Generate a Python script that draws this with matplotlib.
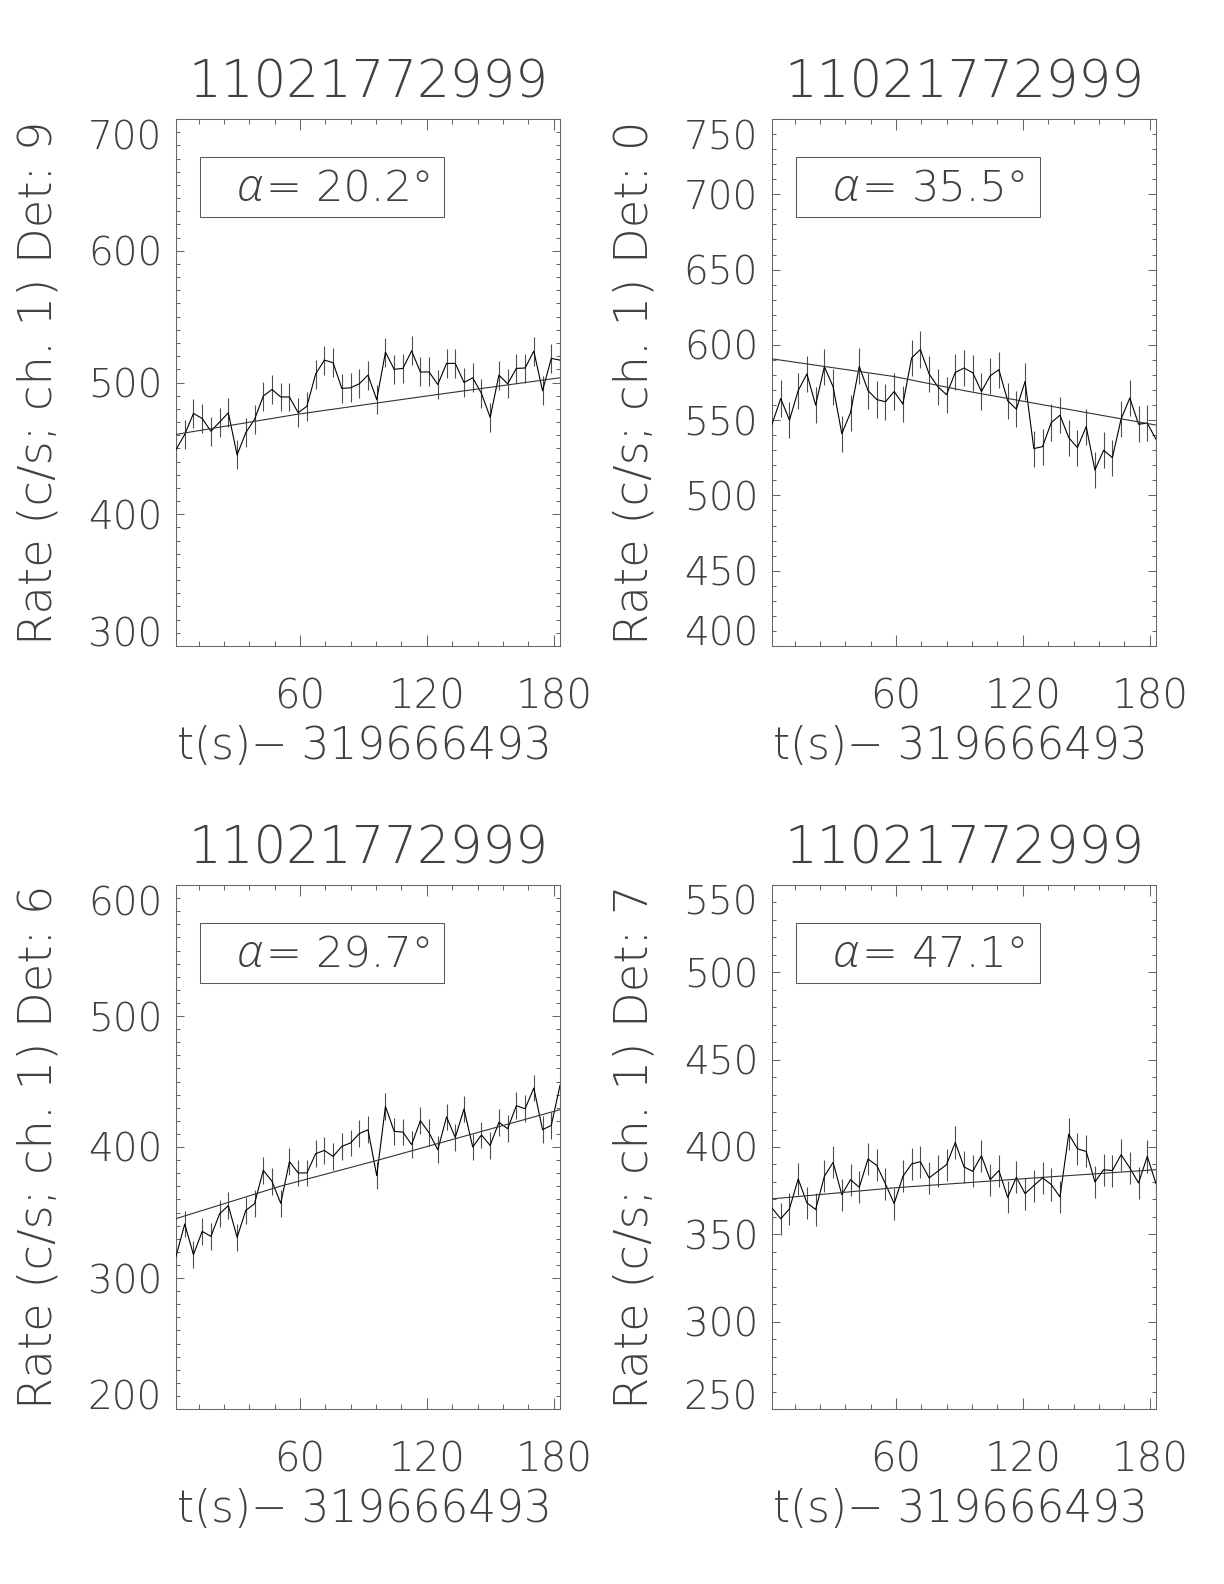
import numpy as np
import matplotlib
matplotlib.use('Agg')
import matplotlib.pyplot as plt
import matplotlib.font_manager as fm
from matplotlib.patches import Rectangle
from matplotlib.ticker import MultipleLocator

# time bins (s after 319666493)
t_bins = 1.3 + 4.13 * np.arange(45)

rates_det9 = [449, 460.6, 476.5, 472.7, 463, 470, 477, 445, 462, 472,
              489.7, 494.7, 489, 489, 477, 482, 506.4, 517, 515, 495.5,
              496, 499, 505.6, 487, 523, 510, 510.7, 524, 508, 508,
              498.5, 514.5, 514.5, 500, 503.6, 491.7, 473.5, 505.6, 499, 510.7,
              511, 523.8, 493.7, 518.3, 517]
rates_det0 = [547.3, 564.4, 550, 569.6, 580.7, 560, 585.5, 572.2, 541, 555,
              585.7, 569.6, 563.7, 562.2, 569, 560.7, 591.3, 596.9, 580.7, 572.2,
              566.9, 581.7, 584.6, 581.5, 569, 579.5, 583.5, 562.9, 557.3, 575.7,
              531.1, 532.4, 548.4, 553.3, 538.4, 531.7, 545.7, 516.9, 530, 525.1,
              550.7, 564.7, 547.3, 548, 537.3]
rates_det6 = [316.5, 341.2, 317.8, 335.6, 331.8, 349.1, 355.2, 331, 351.6, 356.7,
              382.2, 373.8, 357, 388.8, 380.2, 380.2, 394.9, 397.4, 392.8, 400.5,
              403.1, 410.2, 413.2, 378.1, 431, 411.9, 411.4, 401.8, 420.1, 410.8,
              397.9, 422.9, 407.3, 429, 400, 409.2, 401.2, 418.8, 414, 431.5,
              429.2, 445, 413.2, 416.5, 447]
rates_det7 = [365.1, 358.9, 364.6, 381.7, 368, 364.2, 383.2, 391.2, 372.7, 381.3,
              376.9, 393.1, 389.5, 378.9, 367.6, 383.2, 390.3, 391.6, 382.3, 386.1,
              389.9, 402.6, 388.6, 386.1, 395, 381.3, 386.5, 371.2, 382.6, 373.3,
              377.9, 382.3, 378.5, 371.4, 407.4, 399, 397.5, 380, 387, 386.5,
              395.6, 388, 379.4, 394.6, 379]
# 1-sigma errors (c/s)
err_det9, err_det0, err_det6, err_det7 = 11.0, 12.0, 10.2, 9.2

# fitted model curves read at a few times
fit_t_det9 = [1.3, 59.1, 125.5, 183.1]
fit_det9 = [460.6, 476, 491, 503.6]
fit_t_det0 = [1.3, 58.9, 92.2, 183.1]
fit_det0 = [590.7, 579, 569.6, 546.7]
fit_t_det6 = [1.3, 50.5, 96.5, 183.1]
fit_det6 = [345.3, 370, 389.8, 428.5]
fit_t_det7 = [1.3, 58.9, 129.2, 183.1]
fit_det7 = [370.3, 376.6, 382.6, 387]

alphas = [20.2, 35.5, 29.7, 47.1]
dets = [9, 0, 6, 7]
grb = '11021772999'
t0 = '319666493'
ylims = [(300, 700, 100), (400, 750, 50), (200, 600, 100), (250, 550, 50)]
x_ticks = [60, 120, 180]

W, H = 1224, 1584


def light_font(style):
    for fam in ['DejaVu Sans', 'Open Sans', 'Lato', 'Roboto', 'Noto Sans', 'Inter']:
        best = None
        for f in fm.fontManager.ttflist:
            w = f.weight if isinstance(f.weight, int) else fm.weight_dict.get(f.weight, 400)
            st = f.stretch if isinstance(f.stretch, str) else 'normal'
            if f.name == fam and f.style == style and st == 'normal' and w <= 300:
                if best is None or abs(w - 250) < abs(best[0] - 250):
                    best = (w, f.fname)
        if best:
            return best[1]
    return None


fname = light_font('normal')
fname_it = light_font('italic') or light_font('oblique')


def fp(size, italic=False):
    f = fname_it if italic else fname
    if f:
        return fm.FontProperties(fname=f, size=size)
    return fm.FontProperties(family='DejaVu Sans', size=size,
                             style='italic' if italic else 'normal')


txt_col = '0.25'

fig = plt.figure(figsize=(W / 100, H / 100), dpi=100)

cols = [(176, 560), (772, 1156)]
rows = [(119, 646), (885, 1409)]
series = [(rates_det9, err_det9, fit_t_det9, fit_det9),
          (rates_det0, err_det0, fit_t_det0, fit_det0),
          (rates_det6, err_det6, fit_t_det6, fit_det6),
          (rates_det7, err_det7, fit_t_det7, fit_det7)]

for k in range(4):
    l, r = cols[k % 2]
    tp, bt = rows[k // 2]
    wpx, hpx = r - l, bt - tp
    ax = fig.add_axes([l / W, 1 - bt / H, wpx / W, hpx / H])
    rates, err, ft, fv = series[k]
    ymin, ymax, ystep = ylims[k]

    ax.vlines(t_bins, np.array(rates) - err, np.array(rates) + err,
              color='0.3', lw=0.8, zorder=2)
    ax.plot(t_bins, rates, color='black', lw=0.8, zorder=3)
    ax.plot(ft, fv, color='0.2', lw=0.8, zorder=3)

    ax.set_xlim(t_bins[0], t_bins[-1])
    ax.set_ylim(ymin, ymax)
    ax.xaxis.set_major_locator(MultipleLocator(60))
    ax.xaxis.set_minor_locator(MultipleLocator(12))
    ax.yaxis.set_major_locator(MultipleLocator(ystep))
    ax.yaxis.set_minor_locator(MultipleLocator(10))
    ax.tick_params(which='both', direction='in', top=True, right=True,
                   labelbottom=False, labelleft=False, color='0.4', width=0.75)
    ax.tick_params(axis='x', which='major', length=7.6)
    ax.tick_params(axis='x', which='minor', length=3.8)
    ax.tick_params(axis='y', which='major', length=5.5)
    ax.tick_params(axis='y', which='minor', length=2.8)
    for sp in ax.spines.values():
        sp.set_color('0.4')
        sp.set_linewidth(0.75)

    # y tick labels, IDL-like placement at the edges
    yvals = np.arange(ymin, ymax + 1, ystep)
    for i, v in enumerate(yvals):
        va = 'center_baseline'
        if i == 0:
            va = 'baseline'
        elif i == len(yvals) - 1:
            va = 'top'
        ax.text(-14 / wpx, v, '%d' % v, transform=ax.get_yaxis_transform(),
                ha='right', va=va, fontproperties=fp(28), color=txt_col)
    for v in x_ticks:
        ax.text(v, -62 / hpx, '%d' % v, transform=ax.get_xaxis_transform(),
                ha='center', va='baseline', fontproperties=fp(29), color=txt_col)

    # title, axis labels
    ax.text(0.5, 1 + 21 / hpx, grb, transform=ax.transAxes, ha='center',
            va='baseline', fontproperties=fp(37), color=txt_col)
    ax.text(0.5 - 4 / wpx, -113 / hpx, u't(s)\u2212 ' + t0, transform=ax.transAxes,
            ha='center', va='baseline', fontproperties=fp(31.5), color=txt_col)
    fig.text((l - 137) / W, 1 - (tp + bt) / 2 / H,
             'Rate (c/s; ch. 1) Det: %d' % dets[k], rotation=90,
             ha='center', va='center', fontproperties=fp(33.5), color=txt_col)

    # alpha box
    bx, by, bw, bh = 24, 38, 244, 60
    ax.add_patch(Rectangle((bx / wpx, 1 - (by + bh) / hpx), bw / wpx, bh / hpx,
                           transform=ax.transAxes, fill=False, ec='0.35',
                           lw=0.75, zorder=4))
    ybase = 1 - (by + 44) / hpx
    ax.text((bx + 62) / wpx, ybase, u'\u03b1', transform=ax.transAxes,
            ha='right', va='baseline', fontproperties=fp(33, italic=True),
            color=txt_col, zorder=5)
    ax.text((bx + 65) / wpx, ybase, '=', transform=ax.transAxes,
            ha='left', va='baseline', fontproperties=fp(31), color=txt_col,
            zorder=5)
    ax.text((bx + 116) / wpx, ybase, u'%.1f\u00b0' % alphas[k],
            transform=ax.transAxes, ha='left', va='baseline',
            fontproperties=fp(31), color=txt_col, zorder=5)

fig.savefig('out.png', dpi=100)
